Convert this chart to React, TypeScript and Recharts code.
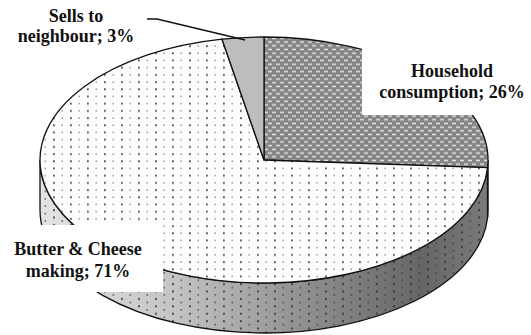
import React from 'react';
import { PieChart, Pie, Cell } from 'recharts';

const categories = ['Household consumption', 'Butter & Cheese making', 'Sells to neighbour'];
const shares = [26, 71, 3];
const labelLines = [
  ['Household', 'consumption; 26%'],
  ['Butter & Cheese', 'making; 71%'],
  ['Sells to', 'neighbour; 3%'],
];

const data = categories.map((name, i) => ({ name, value: shares[i] }));

const W = 531;
const H = 335;
const CX = 264;
const CY = 160;
const RX = 224;
const RY = 123;
const DEPTH = 50;

const topFills = ['url(#hhPat)', 'url(#dotPat)', '#bdbdbd'];
const sideFills = ['#5e5e5e', 'url(#sideGrad)', '#9a9a9a'];
const sideOverlay = [null, 'url(#sideDots)', null];

const labelLayout = [
  { box: { x: 362, y: 0, w: 169, h: 115 }, x: 452, y1: 77, y2: 98 },
  { box: { x: 0, y: 225, w: 163, h: 67 }, x: 78, y1: 255, y2: 277 },
  { box: null, x: 76, y1: 22, y2: 42 },
];

const rad = (a: number) => (a * Math.PI) / 180;

function renderSlice(props: any) {
  const { cx, cy, outerRadius, startAngle, endAngle, index } = props;
  const rx = outerRadius;
  const ry = (outerRadius * RY) / RX;
  const pt = (a: number, dy = 0) => [cx + rx * Math.cos(rad(a)), cy - ry * Math.sin(rad(a)) + dy];
  const s = Math.max(startAngle, endAngle);
  const e = Math.min(startAngle, endAngle);
  const [sx, sy] = pt(s);
  const [ex, ey] = pt(e);
  const large = s - e > 180 ? 1 : 0;
  const top = `M${cx},${cy} L${sx},${sy} A${rx},${ry} 0 ${large} 1 ${ex},${ey} Z`;

  const lo = Math.max(e, -180);
  const hi = Math.min(s, 0);
  let side: string | null = null;
  if (lo < hi) {
    const [hx, hy] = pt(hi);
    const [lx, ly] = pt(lo);
    side = `M${hx},${hy} A${rx},${ry} 0 0 1 ${lx},${ly} L${lx},${ly + DEPTH} A${rx},${ry} 0 0 0 ${hx},${hy + DEPTH} Z`;
  }
  const i = index ?? 0;
  return (
    <g>
      {side && <path d={side} fill={sideFills[i]} stroke="none" />}
      {side && sideOverlay[i] && <path d={side} fill={sideOverlay[i] as string} stroke="none" />}
      {side && <path d={side} fill="none" stroke="#111" strokeWidth={1.3} />}
      <path d={top} fill={topFills[i]} stroke="#111" strokeWidth={1.3} strokeLinejoin="round" />
    </g>
  );
}

function renderLabel(props: any) {
  const i = props.index ?? 0;
  const l = labelLayout[i];
  const font = { fontFamily: 'Liberation Serif, "Times New Roman", serif', fontWeight: 700, fontSize: 18, fill: '#111' };
  return (
    <g key={`lab-${i}`}>
      {l.box && <rect x={l.box.x} y={l.box.y} width={l.box.w} height={l.box.h} fill="#fff" />}
      <text x={l.x} y={l.y1} textAnchor="middle" {...font}>{labelLines[i][0]}</text>
      <text x={l.x} y={l.y2} textAnchor="middle" {...font}>{labelLines[i][1]}</text>
      {i === 2 && <polyline points="147,19 157,19 245,40" fill="none" stroke="#111" strokeWidth={1.5} />}
    </g>
  );
}

export default function App() {
  return (
    <div style={{ position: 'absolute', left: 0, top: 0, width: W, height: H, background: '#fff' }}>
      <PieChart width={W} height={H} margin={{ top: 0, right: 0, bottom: 0, left: 0 }}>
        <defs>
          <pattern id="hhPat" width="8" height="7.4" patternUnits="userSpaceOnUse">
            <rect width="8" height="7.4" fill="#858585" />
            <rect x="0" y="0.6" width="4" height="1.5" fill="#e2e2e2" />
            <rect x="4" y="4.3" width="4" height="1.5" fill="#e2e2e2" />
          </pattern>
          <pattern id="dotPat" width="17" height="7.2" patternUnits="userSpaceOnUse">
            <rect width="17" height="7.2" fill="#fdfdfd" />
            <rect x="2" y="2" width="1.8" height="1.8" fill="#4e4e40" />
            <rect x="10.5" y="2.2" width="1.4" height="1.4" fill="#8c8c80" />
          </pattern>
          <pattern id="sideDots" width="17" height="7.4" patternUnits="userSpaceOnUse">
            <rect x="2" y="2" width="1.9" height="1.9" fill="#2e2e24" opacity="0.85" />
            <rect x="10.5" y="5.6" width="1.6" height="1.6" fill="#333" opacity="0.7" />
          </pattern>
          <linearGradient id="sideGrad" x1="40" y1="0" x2="488" y2="0" gradientUnits="userSpaceOnUse">
            <stop offset="0" stopColor="#e4e4e4" />
            <stop offset="0.3" stopColor="#c4c4c4" />
            <stop offset="0.55" stopColor="#969696" />
            <stop offset="0.85" stopColor="#666" />
            <stop offset="1" stopColor="#7a7a7a" />
          </linearGradient>
        </defs>
        <Pie
          data={data}
          dataKey="value"
          nameKey="name"
          cx={CX}
          cy={CY}
          innerRadius={0}
          outerRadius={RX}
          startAngle={90}
          endAngle={-270}
          stroke="none"
          isAnimationActive={false}
          shape={renderSlice}
          activeShape={renderSlice}
          inactiveShape={renderSlice}
          label={renderLabel}
          labelLine={false}
        >
          {data.map((d, i) => (
            <Cell key={d.name} fill={topFills[i]} />
          ))}
        </Pie>
      </PieChart>
    </div>
  );
}
